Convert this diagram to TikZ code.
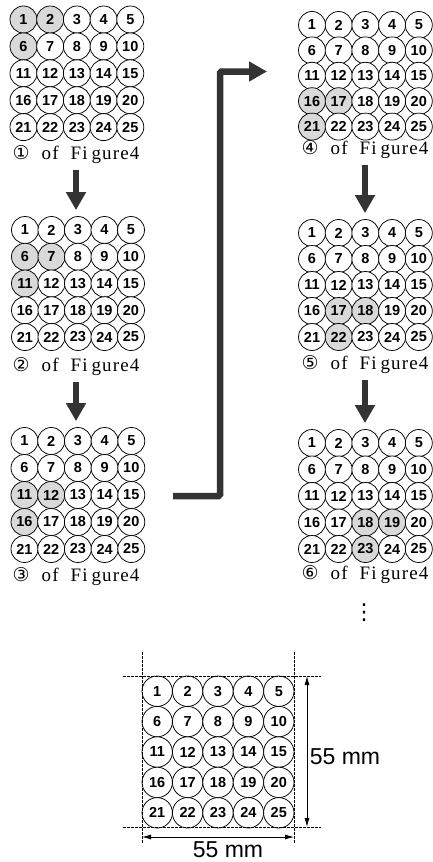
\documentclass[tikz,border=0pt]{standalone}
\usepackage{fontspec}
\setmainfont{Liberation Serif}
\setsansfont{Liberation Sans}
\newfontfamily\circfont{DejaVu Sans}
\newfontfamily\capfont{Liberation Serif}[LetterSpace=6]
\usetikzlibrary{arrows.meta}

% caption text under each grid
\newcommand{\figcap}[1]{{\circfont #1}\hspace{12pt}of\hspace{12pt}Fi\kern4pt gure4}

% 5x5 grid of numbered balls: name, x, y, dx, dy, extra options
\newcommand{\ballgrid}[6]{%
  \begin{scope}[#6]
    \foreach \r in {0,...,4}
      \foreach \c in {0,...,4} {
        \pgfmathtruncatemacro{\ballno}{5*\r+\c+1}
        \node[ball, sel-\ballno/.try] (#1-\ballno) at ({#2+\c*#4},{#3+\r*#5}) {\ballno};
      }
  \end{scope}}

\begin{document}
\begin{tikzpicture}[x=1pt, y=-1pt,
    ball/.style={
        circle,
        draw=black,
        line width=0.75pt,
        fill=white,
        minimum size=27pt,
        inner sep=0pt,
        font=\sffamily\bfseries\fontsize{14.5}{14.5}\selectfont
    },
    hit/.style={fill=gray!30},
    caption/.style={inner sep=0pt, font=\capfont\fontsize{19}{22}\selectfont},
    bigarrow/.style={-{Triangle[width=19pt, length=18pt]}, line width=6.5pt, draw=black!80},
    guide/.style={line width=0.6pt, dash pattern=on 2.5pt off 1.5pt},
    dimline/.style={{Latex[length=9pt, width=5pt]}-{Latex[length=9pt, width=5pt]}, line width=0.8pt},
    dimlabel/.style={font=\sffamily\fontsize{23}{23}\selectfont}
  ]
    \useasboundingbox (0,0) rectangle (432,862);

    % Grids, left column
    \ballgrid{g1}{23.5}{19.5}{26.7}{26.9}{sel-1/.style=hit, sel-2/.style=hit, sel-6/.style=hit}
    \ballgrid{g2}{25}{230}{26.5}{26.75}{sel-6/.style=hit, sel-7/.style=hit, sel-11/.style=hit}
    \ballgrid{g3}{24.5}{441}{26.7}{27}{sel-11/.style=hit, sel-12/.style=hit, sel-16/.style=hit}

    % Grids, right column
    \ballgrid{g4}{312}{25}{26.7}{25.4}{sel-16/.style=hit, sel-17/.style=hit, sel-21/.style=hit}
    \ballgrid{g5}{312}{233}{26.7}{26}{sel-17/.style=hit, sel-18/.style=hit, sel-22/.style=hit}
    \ballgrid{g6}{312}{443}{26.7}{26.5}{sel-18/.style=hit, sel-19/.style=hit, sel-23/.style=hit}

    % Captions
    \node[caption] (cap1) at (76,155) {\figcap{①}};
    \node[caption] (cap2) at (76,367) {\figcap{②}};
    \node[caption] (cap3) at (76,577) {\figcap{③}};
    \node[caption] (cap4) at (365,150) {\figcap{④}};
    \node[caption] (cap5) at (365,365) {\figcap{⑤}};
    \node[caption] (cap6) at (365,575) {\figcap{⑥}};
    \node[inner sep=0pt, font=\circfont\fontsize{22}{22}\selectfont] (more) at (364,613) {⋮};

    % Arrows between steps
    \draw [bigarrow, shorten <=6pt, shorten >=6pt] (cap1.south) -- (cap1.south |- g2-3.north);
    \draw [bigarrow, shorten <=6pt, shorten >=6pt] (cap2.south) -- (cap2.south |- g3-3.north);
    \draw [bigarrow, shorten <=6pt, shorten >=6pt] (cap4.south) -- (cap4.south |- g5-3.north);
    \draw [bigarrow, shorten <=6pt, shorten >=6pt] (cap5.south) -- (cap5.south |- g6-3.north);
    \coordinate (lstart) at (173,496);
    \coordinate (lend) at (267,71.5);
    \draw [bigarrow, rounded corners=1.5pt] (lstart) -- (220,496) |- (lend);

    % Plate with dimensions
    \ballgrid{b}{157.2}{691.2}{30.4}{30.4}{ball/.append style={minimum size=30.4pt}}
    \coordinate (bl) at (142,827);
    \coordinate (tr) at (294,676);
    \draw [guide] (bl |- 0,652) -- (bl |- 0,843);
    \draw [guide] (tr |- 0,652) -- (tr |- 0,843);
    \draw [guide] (123,0 |- tr) -- (321,0 |- tr);
    \draw [guide] (123,0 |- bl) -- (321,0 |- bl);
    \draw [dimline] (307,0 |- tr) -- (307,0 |- bl);
    \draw [dimline] (bl |- 0,837) -- (tr |- 0,837);
    \node[dimlabel] (vlen) at (345,757) {55 mm};
    \node[dimlabel] (hlen) at (228,850) {55 mm};
\end{tikzpicture}
\end{document}
